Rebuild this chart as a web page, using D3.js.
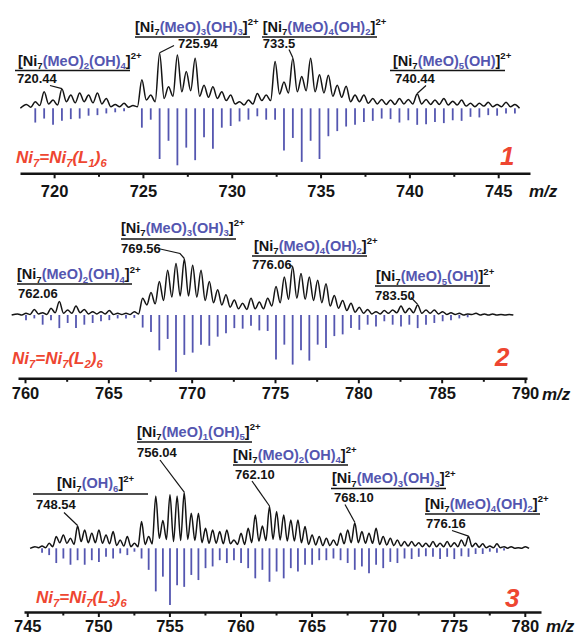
<!DOCTYPE html>
<html>
<head>
<meta charset="utf-8">
<script src="https://cdn.jsdelivr.net/npm/d3@7"></script>
<style>
	body { margin: 0; background: #fff; }
	svg { display: block; font-family: 'Liberation Sans', Arial, sans-serif; font-weight: bold; }
</style>
</head>
<body>
<svg id="chart" width="575" height="634"></svg>
<script>
// ---- spectrum 1 : Ni7(L1)6 ----
const mz1 = [718.44, 718.94, 719.44, 719.94, 720.44, 720.94, 721.44, 721.94, 722.44, 722.94,
	723.44, 723.94, 724.44, 724.94, 725.44, 725.94, 726.44, 726.94, 727.44, 727.94,
	728.44, 728.94, 729.44, 729.94, 730.44, 730.94, 731.44, 731.94, 732.44, 732.94,
	733.44, 733.94, 734.44, 734.94, 735.44, 735.94, 736.44, 736.94, 737.44, 737.94,
	738.44, 738.94, 739.44, 739.94, 740.44, 740.94, 741.44, 741.94, 742.44, 742.94,
	743.44, 743.94, 744.44, 744.94, 745.44, 745.94];
const exp1 = [7, 12, 30, 15, 35, 24, 28, 24, 28, 18,
	7, 9, 5, 52, 24, 100, 39, 97, 67, 91,
	42, 39, 30, 24, 12, 15, 27, 24, 85, 48,
	91, 58, 91, 61, 60, 42, 40, 24, 24, 18,
	16, 15, 18, 16, 26, 16, 15, 18, 13, 15,
	9, 9, 11, 7, 11, 7];
// dips of the measured trace between neighbouring peaks
const dip1 = [2, 5, 8, 6, 12, 10, 12, 10, 8, 3,
	3, 2, 3, 15, 12, 18, 22, 30, 32, 22,
	20, 18, 14, 8, 6, 8, 14, 14, 26, 28,
	30, 32, 30, 28, 22, 20, 12, 12, 9, 8,
	7, 7, 8, 8, 8, 7, 7, 6, 6, 4,
	3, 4, 3, 3, 3];
const sim1 = [0, 25, 18, 29, 22, 19, 18, 13, 12, 9,
	7, 5, 0, 34, 20, 89, 57, 100, 69, 91,
	51, 71, 34, 31, 23, 20, 14, 20, 20, 74,
	52, 94, 57, 89, 49, 40, 32, 29, 24, 22,
	18, 19, 25, 21, 29, 28, 24, 26, 21, 22,
	15, 16, 12, 13, 9, 9];
const ends1 = [718.1, 746.2];
const ticks1 = [720, 725, 730, 735, 740, 745];
const minor1 = [722.5, 727.5, 732.5, 737.5, 742.5];
const species1 = ['(MeO)2(OH)4', '(MeO)3(OH)3', '(MeO)4(OH)2', '(MeO)5(OH)'];
const masses1 = ['720.44', '725.94', '733.5', '740.44'];
const marked1 = [720.44, 725.94, 733.44, 740.44];

// ---- spectrum 2 : Ni7(L2)6 ----
const mz2 = [759.56, 760.06, 760.56, 761.06, 761.56, 762.06, 762.56, 763.06, 763.56, 764.06,
	764.56, 765.06, 765.56, 766.06, 766.56, 767.06, 767.56, 768.06, 768.56, 769.06,
	769.56, 770.06, 770.56, 771.06, 771.56, 772.06, 772.56, 773.06, 773.56, 774.06,
	774.56, 775.06, 775.56, 776.06, 776.56, 777.06, 777.56, 778.06, 778.56, 779.06,
	779.56, 780.06, 780.56, 781.06, 781.56, 782.06, 782.56, 783.06, 783.56, 784.06,
	784.56, 785.06, 785.56, 786.06, 786.56, 787.06, 787.56, 788.06, 788.56, 789.06];
const exp2 = [2, 3, 10, 4, 12, 24, 9, 16, 10, 6,
	6, 8, 3, 3, 6, 30, 40, 60, 80, 92,
	100, 89, 80, 60, 45, 36, 27, 21, 30, 23,
	30, 51, 68, 86, 74, 68, 62, 56, 35, 26,
	21, 14, 10, 6, 8, 9, 16, 12, 18, 9,
	9, 6, 4, 3, 2, 3, 2, 2, 1, 1];
const dip2 = [0, 1, 2, 1, 4, 3, 3, 4, 2, 2,
	2, 1, 1, 1, 2, 18, 20, 26, 32, 34,
	34, 32, 26, 22, 18, 14, 11, 10, 11, 11,
	16, 22, 28, 30, 28, 26, 22, 16, 12, 8,
	5, 3, 2, 2, 3, 4, 4, 4, 3, 3,
	2, 1, 1, 0, 1, 0, 0, 0, 0];
const sim2 = [0, 9, 6, 17, 9, 23, 14, 23, 17, 14,
	11, 9, 6, 6, 5, 22, 30, 62, 42, 100,
	70, 66, 52, 54, 38, 32, 23, 24, 19, 27,
	28, 78, 52, 87, 62, 80, 52, 58, 37, 34,
	23, 26, 17, 20, 11, 17, 20, 17, 23, 17,
	14, 11, 9, 6, 4, 0, 0, 0, 0, 0];
const ends2 = [759.2, 789.3];
const ticks2 = [760, 765, 770, 775, 780, 785, 790];
const minor2 = [762.5, 767.5, 772.5, 777.5, 782.5, 787.5];
const species2 = ['(MeO)2(OH)4', '(MeO)3(OH)3', '(MeO)4(OH)2', '(MeO)5(OH)'];
const masses2 = ['762.06', '769.56', '776.06', '783.50'];
const marked2 = [762.06, 769.56, 776.06, 783.56];

// ---- spectrum 3 : Ni7(L3)6 ----
const mz3 = [745.54, 746.04, 746.54, 747.04, 747.54, 748.04, 748.54, 749.04, 749.54, 750.04,
	750.54, 751.04, 751.54, 752.04, 752.54, 753.04, 753.54, 754.04, 754.54, 755.04,
	755.54, 756.04, 756.54, 757.04, 757.54, 758.04, 758.54, 759.04, 759.54, 760.04,
	760.54, 761.04, 761.54, 762.04, 762.54, 763.04, 763.54, 764.04, 764.54, 765.04,
	765.54, 766.04, 766.54, 767.04, 767.54, 768.04, 768.54, 769.04, 769.54, 770.04,
	770.54, 771.04, 771.54, 772.04, 772.54, 773.04, 773.54, 774.04, 774.54, 775.04,
	775.54, 776.04, 776.54, 777.04, 777.54, 778.04, 778.54, 779.04, 779.54, 780.04];
const exp3 = [3, 4, 9, 21, 24, 18, 40, 33, 27, 33,
	24, 30, 15, 21, 9, 48, 21, 94, 50, 96,
	94, 100, 63, 63, 36, 33, 30, 33, 15, 27,
	36, 60, 40, 75, 66, 60, 51, 51, 39, 24,
	21, 18, 15, 27, 33, 46, 30, 27, 36, 21,
	18, 15, 12, 12, 10, 9, 12, 9, 12, 10,
	15, 21, 9, 8, 4, 8, 3, 3, 1, 3];
const dip3 = [1, 1, 3, 10, 9, 7, 12, 10, 10, 9,
	8, 5, 4, 3, 3, 7, 8, 18, 16, 12,
	14, 16, 14, 10, 9, 9, 8, 8, 7, 7,
	10, 13, 14, 16, 15, 13, 13, 10, 7, 6,
	5, 5, 5, 8, 10, 10, 9, 9, 7, 6,
	5, 4, 4, 4, 3, 3, 3, 3, 3, 3,
	4, 3, 2, 1, 1, 1, 0, 0, 0];
const sim3 = [0, 8, 12, 26, 18, 29, 21, 29, 21, 24,
	15, 18, 9, 12, 6, 18, 38, 76, 50, 100,
	65, 68, 47, 56, 35, 32, 21, 26, 21, 26,
	35, 53, 38, 59, 41, 53, 35, 41, 29, 29,
	21, 21, 18, 21, 26, 38, 32, 44, 29, 35,
	24, 26, 18, 19, 15, 14, 15, 19, 15, 19,
	14, 15, 10, 10, 6, 8, 4, 0, 0, 0];
const ends3 = [745.2, 780.3];
const ticks3 = [745, 750, 755, 760, 765, 770, 775, 780];
const minor3 = [747.5, 752.5, 757.5, 762.5, 767.5, 772.5, 777.5];
const species3 = ['(OH)6', '(MeO)1(OH)5', '(MeO)2(OH)4', '(MeO)3(OH)3', '(MeO)4(OH)2'];
const masses3 = ['748.54', '756.04', '762.10', '768.10', '776.16'];
const marked3 = [748.54, 756.04, 762.04, 768.04, 776.04];

const ligands = ['1', '2', '3'];

// ---- layout ----
const black = '#141414', blue = '#5456b0', red = '#ee4631';
const underlineLen = 115;

let panels = [
	{ mz: mz1, exp: exp1, dip: dip1, sim: sim1, ends: ends1, ticks: ticks1, minor: minor1,
		species: species1, masses: masses1, marked: marked1,
		domain: [718.08, 746.79], range: [20, 530], base: 108.3, ampExp: 55, ampSim: 57, axisY: 173.3, tickY: 23.5,
		labels: [
			{ x: 18, y: 65.5, ux: 15, uy: 70.5, nx: 17, ny: 82.5, lead: [[50, 85.5]] },
			{ x: 135, y: 31.5, ux: 135, uy: 37, nx: 178, ny: 48, lead: [[174, 45.5]] },
			{ x: 262.7, y: 31.5, ux: 262, uy: 37, nx: 262.7, ny: 48, lead: [[289, 49.5]] },
			{ x: 393, y: 65.5, ux: 390, uy: 70.5, nx: 395, ny: 82.5, lead: [[426, 85.5]] }
		],
		red: [16, 163], big: [500, 165], mzText: [529, 197] },
	{ mz: mz2, exp: exp2, dip: dip2, sim: sim2, ends: ends2, ticks: ticks2, minor: minor2,
		species: species2, masses: masses2, marked: marked2,
		domain: [759.58, 790.12], range: [18, 527], base: 315, ampExp: 56, ampSim: 57, axisY: 378.3, tickY: 21,
		labels: [
			{ x: 17, y: 279, ux: 17, uy: 284, nx: 18, ny: 297.5, lead: null },
			{ x: 121, y: 232.5, ux: 121, uy: 239, nx: 121, ny: 252.5, lead: [[158, 248.5], [180, 253.5]] },
			{ x: 254, y: 250.5, ux: 252, uy: 256, nx: 252, ny: 268.5, lead: [[289, 265]] },
			{ x: 376, y: 281, ux: 375, uy: 286, nx: 375, ny: 300, lead: [[411, 297.5]] }
		],
		red: [12, 364], big: [495, 366], mzText: [542, 400] },
	{ mz: mz3, exp: exp3, dip: dip3, sim: sim3, ends: ends3, ticks: ticks3, minor: minor3,
		species: species3, masses: masses3, marked: marked3,
		domain: [744.77, 781.14], range: [24, 541], base: 548.3, ampExp: 55.7, ampSim: 56.7, axisY: 612, tickY: 19.5,
		labels: [
			{ x: 57, y: 488, ux: 33, uy: 494, nx: 36, ny: 509, lead: [[64, 512.5]] },
			{ x: 137, y: 436.5, ux: 137, uy: 442, nx: 137, ny: 456.5, lead: [[160, 460]] },
			{ x: 233, y: 459.5, ux: 233, uy: 465, nx: 235, ny: 478.5, lead: [[252, 481]] },
			{ x: 332, y: 483, ux: 331, uy: 488.5, nx: 334, ny: 501.5, lead: [[345, 504.5]] },
			{ x: 425, y: 508.5, ux: 425, uy: 514, nx: 426, ny: 528, lead: [[452, 530.5]] }
		],
		red: [36, 603], big: [505, 607], mzText: [546, 631.5] }
];

const svg = d3.select('#chart');

// text made of runs, each normal / sub / sup
function richText(g, x, y, size, parts, italic) {
	let t = g.append('text').attr('x', x).attr('y', y)
		.style('font-size', size + 'px')
		.style('font-style', italic ? 'italic' : null);
	let shift = 0;
	parts.forEach(p => {
		let target = p.pos === 'sub' ? size * 0.26 : p.pos === 'sup' ? -size * 0.42 : 0;
		t.append('tspan')
			.attr('dy', target - shift)
			.style('font-size', p.pos ? (size * 0.66) + 'px' : null)
			.attr('fill', p.c)
			.text(p.t);
		shift = target;
	});
	return t;
}

function formulaParts(species) {
	let parts = [{ t: '[Ni', c: black }, { t: '7', c: black, pos: 'sub' }];
	species.split(/(\d+)/).forEach(s => {
		if (!s) return;
		parts.push({ t: s, c: blue, pos: /\d/.test(s) ? 'sub' : null });
	});
	parts.push({ t: ']', c: black }, { t: '2+', c: black, pos: 'sup' });
	return parts;
}

function ligandParts(n) {
	return [
		{ t: 'Ni', c: red }, { t: '7', c: red, pos: 'sub' },
		{ t: '=Ni', c: red }, { t: '7', c: red, pos: 'sub' },
		{ t: '(L', c: red }, { t: n, c: red, pos: 'sub' },
		{ t: ')', c: red }, { t: '6', c: red, pos: 'sub' }
	];
}

panels.forEach((p, pi) => {
	let x = d3.scaleLinear().domain(p.domain).range(p.range);
	let yExp = d3.scaleLinear().domain([0, 100]).range([p.base, p.base - p.ampExp]);
	let ySim = d3.scaleLinear().domain([0, 100]).range([p.base, p.base + p.ampSim]);
	let g = svg.append('g').attr('class', 'panel');

	// simulated isotope pattern, drawn downward
	let sticks = p.mz.map((m, i) => ({ mz: m, v: p.sim[i] })).filter(d => d.v > 0);
	g.selectAll('.stick')
		.data(sticks)
		.enter()
		.append('line')
		.attr('class', 'stick')
		.attr('x1', d => x(d.mz))
		.attr('x2', d => x(d.mz))
		.attr('y1', ySim(0))
		.attr('y2', d => ySim(d.v))
		.attr('stroke', blue)
		.attr('stroke-width', 1.8);

	// measured trace: peaks and the dips between them
	let pts = [{ mz: p.ends[0], v: 0 }];
	p.mz.forEach((m, i) => {
		pts.push({ mz: m, v: p.exp[i] });
		if (i < p.mz.length - 1) pts.push({ mz: (m + p.mz[i + 1]) / 2, v: p.dip[i] });
	});
	pts.push({ mz: p.ends[1], v: 0 });
	let line = d3.line()
		.x(d => x(d.mz))
		.y(d => yExp(d.v))
		.curve(d3.curveMonotoneX);
	g.append('path')
		.attr('d', line(pts))
		.attr('fill', 'none')
		.attr('stroke', black)
		.attr('stroke-width', 1.5)
		.attr('stroke-linejoin', 'round');

	// axis
	let axis = g.append('g')
		.attr('transform', `translate(0,${p.axisY})`)
		.attr('color', black)
		.call(d3.axisBottom(x).tickValues(p.ticks).tickSize(5).tickSizeOuter(0).tickFormat(d3.format('d')));
	axis.select('.domain').attr('stroke-width', 2.5);
	axis.selectAll('.tick line').attr('stroke-width', 2);
	axis.selectAll('.tick text')
		.attr('y', p.tickY)
		.attr('dy', 0)
		.attr('fill', black)
		.style('font-family', "'Liberation Sans', Arial, sans-serif")
		.style('font-weight', 'bold')
		.style('font-size', '16.5px');
	let minorAxis = g.append('g')
		.attr('transform', `translate(0,${p.axisY})`)
		.attr('color', black)
		.call(d3.axisBottom(x).tickValues(p.minor).tickSize(3.5).tickFormat(''));
	minorAxis.select('.domain').remove();
	minorAxis.selectAll('.tick line').attr('stroke-width', 2);

	g.append('text')
		.attr('x', p.mzText[0])
		.attr('y', p.mzText[1])
		.style('font-size', '17px')
		.style('font-style', 'italic')
		.attr('fill', black)
		.text('m/z');

	// species labels
	p.labels.forEach((l, i) => {
		richText(g, l.x, l.y, 14.5, formulaParts(p.species[i]));
		g.append('line')
			.attr('x1', l.ux).attr('x2', l.ux + underlineLen)
			.attr('y1', l.uy).attr('y2', l.uy)
			.attr('stroke', black)
			.attr('stroke-width', 1.7);
		g.append('text')
			.attr('x', l.nx)
			.attr('y', l.ny)
			.style('font-size', '13px')
			.attr('fill', black)
			.text(p.masses[i]);
		if (l.lead) {
			let k = p.mz.indexOf(p.marked[i]);
			let end = [x(p.marked[i]), yExp(p.exp[k]) - 0.5];
			g.append('path')
				.attr('d', d3.line()(l.lead.concat([end])))
				.attr('fill', 'none')
				.attr('stroke', black)
				.attr('stroke-width', 1.2);
		}
	});

	richText(g, p.red[0], p.red[1], 17, ligandParts(ligands[pi]), true);
	g.append('text')
		.attr('x', p.big[0])
		.attr('y', p.big[1])
		.style('font-size', '26px')
		.style('font-style', 'italic')
		.attr('fill', red)
		.text(ligands[pi]);
});
</script>
</body>
</html>
